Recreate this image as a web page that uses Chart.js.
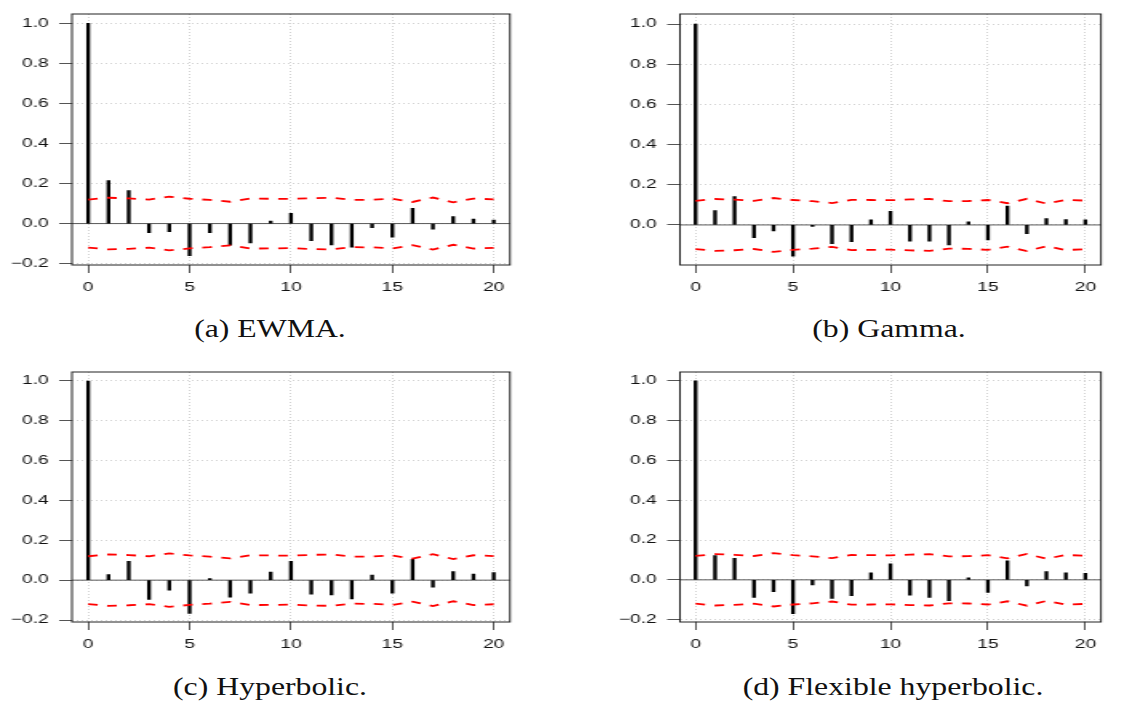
<!DOCTYPE html>
<html>
<head>
<meta charset="utf-8">
<title>Residual autocorrelation by weighting scheme</title>
<script src="https://cdn.jsdelivr.net/npm/chart.js@4.4.1/dist/chart.umd.min.js"></script>
<style>
  html, body { margin: 0; padding: 0; background: #fff; }
  body { width: 1131px; height: 702px; position: relative; overflow: hidden; }
  .panel { position: absolute; transform-origin: 0 0; }
  .panel canvas { display: block; }
  .caption {
    position: absolute;
    font-family: "Liberation Serif", "Times New Roman", serif;
    font-size: 25px;
    line-height: 25px;
    color: #111;
    white-space: nowrap;
    transform: translateX(-50%) scaleX(1.27);
  }
</style>
</head>
<body>
<div class="panel" id="wrapA"><canvas id="chartA"></canvas></div>
<div class="panel" id="wrapB"><canvas id="chartB"></canvas></div>
<div class="panel" id="wrapC"><canvas id="chartC"></canvas></div>
<div class="panel" id="wrapD"><canvas id="chartD"></canvas></div>
<div class="caption" style="left:270px; top:316px;">(a) EWMA.</div>
<div class="caption" style="left:889px; top:316px;">(b) Gamma.</div>
<div class="caption" style="left:270px; top:674px;">(c) Hyperbolic.</div>
<div class="caption" style="left:893px; top:674px;">(d) Flexible hyperbolic.</div>

<script>
// Lags shown on every panel
const lags = [0, 1, 2, 3, 4, 5, 6, 7, 8, 9, 10, 11, 12, 13, 14, 15, 16, 17, 18, 19, 20];

// Sample autocorrelations per weighting scheme
const acfEWMA = [1.000, 0.215, 0.165, -0.045, -0.040, -0.160, -0.045, -0.108, -0.097, 0.013, 0.051, -0.086, -0.107, -0.118, -0.020, -0.068, 0.076, -0.028, 0.035, 0.022, 0.017];
const acfGamma = [1.000, 0.071, 0.141, -0.063, -0.030, -0.156, -0.008, -0.093, -0.083, 0.025, 0.068, -0.081, -0.081, -0.100, 0.015, -0.075, 0.094, -0.043, 0.032, 0.027, 0.025];
const acfHyperbolic = [1.000, 0.028, 0.094, -0.097, -0.050, -0.167, 0.008, -0.085, -0.065, 0.040, 0.094, -0.070, -0.074, -0.094, 0.025, -0.065, 0.104, -0.035, 0.043, 0.030, 0.038];
const acfFlexHyperbolic = [1.000, 0.122, 0.108, -0.088, -0.060, -0.170, -0.025, -0.093, -0.080, 0.035, 0.080, -0.077, -0.088, -0.105, 0.010, -0.063, 0.095, -0.030, 0.042, 0.035, 0.033];

// Confidence bounds for the autocorrelations
const ciUpper = [0.120, 0.129, 0.126, 0.120, 0.134, 0.124, 0.118, 0.109, 0.125, 0.124, 0.123, 0.127, 0.129, 0.118, 0.119, 0.124, 0.108, 0.130, 0.106, 0.125, 0.121];
const ciLower = [-0.120, -0.129, -0.126, -0.120, -0.134, -0.124, -0.118, -0.109, -0.125, -0.124, -0.123, -0.127, -0.129, -0.118, -0.119, -0.124, -0.108, -0.130, -0.106, -0.125, -0.121];

// Axis ticks and ranges
const xTicks = [0, 5, 10, 15, 20];
const xRange = [-0.8, 20.8];
const yTicksFull = [-0.2, 0.0, 0.2, 0.4, 0.6, 0.8, 1.0];
const yTicksPositive = [0.0, 0.2, 0.4, 0.6, 0.8, 1.0];
const yRangeA = [-0.207, 1.047];
const yRangeB = [-0.1995, 1.05];
const yRangeC = [-0.21, 1.045];
const yRangeD = [-0.212, 1.045];

// The panels are drawn narrow and widened horizontally, like the original R graphics device
const STRETCH = 1.6;

// Plot frame and horizontal zero reference
const framePlugin = {
  id: 'acfFrame',
  beforeDatasetsDraw(chart) {
    const { ctx, chartArea } = chart;
    const y0 = chart.scales.y.getPixelForValue(0);
    ctx.save();
    ctx.strokeStyle = '#5a5a5a';
    ctx.lineWidth = 1;
    ctx.beginPath();
    ctx.moveTo(chartArea.left, y0);
    ctx.lineTo(chartArea.right, y0);
    ctx.stroke();
    ctx.restore();
  },
  afterDraw(chart) {
    const { ctx, chartArea } = chart;
    ctx.save();
    ctx.strokeStyle = '#222';
    ctx.lineWidth = 1;
    ctx.strokeRect(chartArea.left, chartArea.top, chartArea.right - chartArea.left, chartArea.bottom - chartArea.top);
    ctx.restore();
  }
};

function fmtY(v) {
  return v < 0 ? '\u2212' + Math.abs(v).toFixed(1) : v.toFixed(1);
}

function makePanel(opt) {
  const wrap = document.getElementById(opt.wrap);
  const canvas = document.getElementById(opt.canvas);
  const natW = opt.width / STRETCH;
  const H = opt.height;
  wrap.style.left = opt.left + 'px';
  wrap.style.top = opt.top + 'px';
  wrap.style.width = natW + 'px';
  wrap.style.height = H + 'px';
  wrap.style.transform = 'scaleX(' + STRETCH + ')';
  canvas.width = Math.round(natW);
  canvas.height = H;
  canvas.style.width = Math.round(natW) + 'px';
  canvas.style.height = H + 'px';

  const boxLeft = (opt.boxLeft - opt.left) / STRETCH;
  const boxRight = (opt.boxRight - opt.left) / STRETCH;
  const boxTop = opt.boxTop - opt.top;
  const boxBottom = opt.boxBottom - opt.top;

  const tickFont = { family: '"Liberation Sans", Arial, sans-serif', size: 12 };
  const gridStyle = {
    offset: false,
    color: '#d2d2d2',
    lineWidth: 1,
    tickColor: '#555',
    tickWidth: 1,
    tickLength: 8,
    tickBorderDash: []
  };
  const gridBorder = { display: false, dash: [1, 2] };

  return new Chart(canvas, {
    type: 'bar',
    data: {
      datasets: [
        {
          type: 'bar',
          data: lags.map((l, i) => ({ x: l, y: opt.acf[i] })),
          backgroundColor: '#000',
          borderWidth: 0,
          barThickness: 1.7,
          grouped: false,
          order: 2
        },
        {
          type: 'line',
          data: lags.map((l, i) => ({ x: l, y: ciUpper[i] })),
          borderColor: '#ff0000',
          borderWidth: 1.8,
          borderDash: [6, 6],
          pointRadius: 0,
          tension: 0,
          fill: false,
          order: 1
        },
        {
          type: 'line',
          data: lags.map((l, i) => ({ x: l, y: ciLower[i] })),
          borderColor: '#ff0000',
          borderWidth: 1.8,
          borderDash: [6, 6],
          pointRadius: 0,
          tension: 0,
          fill: false,
          order: 1
        }
      ]
    },
    options: {
      responsive: false,
      animation: false,
      devicePixelRatio: 1,
      layout: { padding: { left: 0, top: boxTop, right: Math.round(natW) - boxRight, bottom: 0 } },
      plugins: { legend: { display: false }, tooltip: { enabled: false }, title: { display: false } },
      scales: {
        x: {
          type: 'linear',
          min: xRange[0],
          max: xRange[1],
          offset: false,
          afterBuildTicks: s => { s.ticks = xTicks.map(v => ({ value: v })); },
          afterFit: s => { s.height = H - boxBottom; },
          border: gridBorder,
          grid: gridStyle,
          ticks: {
            font: tickFont,
            color: '#111',
            padding: 7,
            maxRotation: 0,
            autoSkip: false,
            callback: v => String(v)
          }
        },
        y: {
          type: 'linear',
          min: opt.yRange[0],
          max: opt.yRange[1],
          afterBuildTicks: s => { s.ticks = opt.yTicks.map(v => ({ value: v })); },
          afterFit: s => { s.width = boxLeft; },
          border: gridBorder,
          grid: gridStyle,
          ticks: {
            font: tickFont,
            color: '#111',
            padding: 6.5,
            autoSkip: false,
            callback: v => fmtY(v)
          }
        }
      }
    },
    plugins: [framePlugin]
  });
}

makePanel({ wrap: 'wrapA', canvas: 'chartA', left: 0, top: 0, width: 560, height: 300,
  boxLeft: 72, boxRight: 510, boxTop: 14, boxBottom: 265,
  acf: acfEWMA, yRange: yRangeA, yTicks: yTicksFull });

makePanel({ wrap: 'wrapB', canvas: 'chartB', left: 580, top: 0, width: 550, height: 300,
  boxLeft: 680, boxRight: 1101, boxTop: 14, boxBottom: 265,
  acf: acfGamma, yRange: yRangeB, yTicks: yTicksPositive });

makePanel({ wrap: 'wrapC', canvas: 'chartC', left: 0, top: 358, width: 560, height: 300,
  boxLeft: 72, boxRight: 510, boxTop: 372, boxBottom: 622,
  acf: acfHyperbolic, yRange: yRangeC, yTicks: yTicksFull });

makePanel({ wrap: 'wrapD', canvas: 'chartD', left: 580, top: 358, width: 550, height: 300,
  boxLeft: 680, boxRight: 1101, boxTop: 372, boxBottom: 622,
  acf: acfFlexHyperbolic, yRange: yRangeD, yTicks: yTicksFull });
</script>
</body>
</html>
